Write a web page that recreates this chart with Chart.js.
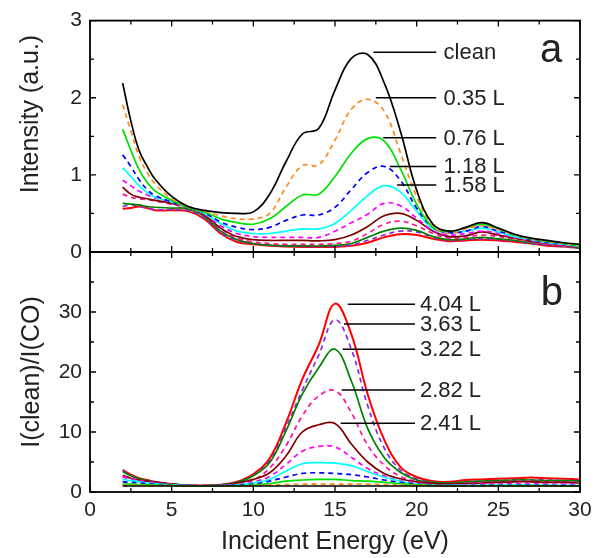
<!DOCTYPE html>
<html>
<head>
<meta charset="utf-8">
<script src="https://cdn.jsdelivr.net/npm/chart.js@4.4.0/dist/chart.umd.min.js"></script>
<style>
body { margin: 0; background: #fff; }
#wrap { position: relative; width: 604px; height: 558px; }
#wrap canvas { position: absolute; left: 0; top: 0; }
</style>
</head>
<body>
<div id="wrap">
  <canvas id="chartA" width="604" height="558"></canvas>
  <canvas id="chartB" width="604" height="558"></canvas>
</div>
<script>
// energy grid (eV)
var energy = [2,2.5,3,3.5,4,5,6,7,8,9,10,11,12,13,14,15,16,17,18,19,20,21,22,23,24,25,26,27,28,29,30];

// exposures
var exposures = ['clean','0.35 L','0.76 L','1.18 L','1.58 L','1.99 L','2.41 L','2.82 L','3.22 L','3.63 L','4.04 L'];

// panel a - intensity (a.u.)
var aClean = [2.19,1.70,1.32,1.11,0.94,0.72,0.59,0.54,0.51,0.50,0.52,0.75,1.17,1.53,1.60,2.10,2.51,2.56,2.20,1.57,0.80,0.36,0.27,0.32,0.38,0.31,0.23,0.18,0.15,0.12,0.10];
var a035 = [1.91,1.57,1.24,1.03,0.88,0.69,0.59,0.53,0.47,0.43,0.43,0.50,0.84,1.12,1.13,1.45,1.85,1.98,1.83,1.29,0.72,0.34,0.24,0.30,0.34,0.29,0.22,0.17,0.14,0.11,0.09];
var a076 = [1.59,1.32,1.07,0.90,0.79,0.67,0.58,0.52,0.43,0.38,0.36,0.43,0.59,0.74,0.75,0.98,1.28,1.47,1.44,1.08,0.62,0.32,0.27,0.31,0.36,0.30,0.22,0.17,0.14,0.11,0.08];
var a118 = [1.26,1.11,0.94,0.81,0.73,0.65,0.59,0.51,0.39,0.32,0.29,0.32,0.41,0.48,0.48,0.58,0.81,1.03,1.11,0.93,0.57,0.32,0.25,0.27,0.33,0.27,0.22,0.16,0.13,0.11,0.08];
var a158 = [1.09,0.98,0.86,0.77,0.71,0.65,0.58,0.50,0.37,0.27,0.24,0.24,0.27,0.30,0.30,0.37,0.54,0.73,0.86,0.78,0.53,0.30,0.25,0.27,0.31,0.26,0.20,0.16,0.12,0.10,0.07];
var a199 = [0.93,0.86,0.79,0.74,0.70,0.65,0.59,0.49,0.34,0.24,0.20,0.19,0.19,0.19,0.19,0.27,0.38,0.49,0.63,0.60,0.44,0.28,0.22,0.24,0.27,0.24,0.19,0.15,0.11,0.09,0.07];
var a241 = [0.84,0.75,0.71,0.69,0.67,0.63,0.58,0.48,0.31,0.20,0.16,0.15,0.15,0.15,0.145,0.16,0.22,0.33,0.47,0.50,0.41,0.27,0.20,0.21,0.26,0.22,0.18,0.14,0.11,0.09,0.06];
var a282 = [0.75,0.71,0.69,0.68,0.66,0.62,0.57,0.47,0.30,0.18,0.13,0.11,0.10,0.10,0.10,0.11,0.14,0.24,0.36,0.40,0.34,0.24,0.18,0.19,0.22,0.20,0.17,0.13,0.10,0.08,0.06];
var a322 = [0.63,0.62,0.61,0.59,0.58,0.57,0.56,0.46,0.27,0.16,0.11,0.09,0.08,0.08,0.078,0.085,0.11,0.19,0.27,0.31,0.28,0.20,0.16,0.17,0.19,0.17,0.15,0.12,0.10,0.08,0.05];
var a363 = [0.59,0.61,0.59,0.57,0.55,0.55,0.54,0.44,0.25,0.15,0.11,0.085,0.075,0.07,0.07,0.072,0.09,0.15,0.22,0.27,0.26,0.19,0.15,0.16,0.17,0.16,0.14,0.11,0.09,0.07,0.05];
var a404 = [0.56,0.57,0.59,0.57,0.54,0.54,0.53,0.43,0.24,0.13,0.10,0.08,0.07,0.065,0.065,0.066,0.08,0.12,0.19,0.23,0.22,0.17,0.14,0.15,0.16,0.15,0.13,0.11,0.08,0.07,0.05];

// panel b - I(clean)/I(CO)
var bClean = [1,1,1,1,1,1,1,1,1,1,1,1,1,1,1,1,1,1,1,1,1,1,1,1,1,1,1,1,1,1,1];
var b035 = [1.1,1.1,1.1,1.1,1.05,1.05,1.0,1.0,1.0,1.0,1.05,1.15,1.25,1.3,1.3,1.3,1.3,1.3,1.25,1.15,1.1,1.0,1.0,1.0,1.0,1.0,1.0,1.0,1.0,1.0,1.0];
var b076 = [1.3,1.3,1.25,1.2,1.15,1.1,1.0,1.0,1.0,1.05,1.15,1.4,1.8,2.0,2.1,2.1,1.9,1.8,1.6,1.4,1.2,1.05,1.0,1.0,1.05,1.05,1.05,1.05,1.05,1.0,1.0];
var b118 = [1.7,1.6,1.5,1.4,1.3,1.15,1.05,1.0,1.05,1.15,1.3,1.8,2.5,3.1,3.2,3.1,2.9,2.5,2.0,1.6,1.3,1.1,1.05,1.05,1.1,1.1,1.1,1.1,1.1,1.05,1.05];
var b158 = [2.1,1.9,1.7,1.5,1.4,1.2,1.05,1.0,1.05,1.2,1.5,2.1,3.5,4.7,4.9,4.8,4.4,3.4,2.5,1.8,1.3,1.1,1.1,1.1,1.1,1.15,1.15,1.15,1.1,1.1,1.1];
var b199 = [2.6,2.2,1.9,1.7,1.5,1.25,1.1,1.05,1.1,1.3,1.7,2.6,4.6,6.8,7.6,7.5,5.8,3.9,2.7,1.9,1.5,1.2,1.1,1.2,1.3,1.3,1.4,1.4,1.3,1.3,1.3];
var b241 = [2.8,2.3,2.0,1.8,1.6,1.3,1.1,1.05,1.15,1.5,2.1,3.2,6.0,10.0,11.2,11.4,8.0,5.0,3.1,2.2,1.7,1.4,1.3,1.4,1.5,1.6,1.7,1.7,1.6,1.6,1.5];
var b282 = [2.5,2.1,1.9,1.7,1.5,1.25,1.1,1.05,1.15,1.4,2.0,4.0,7.7,12.7,16.0,16.9,13.2,7.8,4.5,2.6,1.8,1.4,1.3,1.5,1.6,1.7,1.8,1.8,1.7,1.7,1.6];
var b322 = [3.4,2.7,2.2,1.9,1.6,1.3,1.1,1.05,1.2,1.6,2.7,4.9,10.2,16.3,20.7,23.8,18.5,10.6,5.8,3.3,2.0,1.6,1.5,1.7,1.8,1.9,2.0,2.0,1.9,1.9,1.8];
var b363 = [3.6,2.8,2.2,1.9,1.7,1.3,1.1,1.05,1.2,1.6,2.8,5.2,10.8,17.0,22.8,28.7,23.8,14.4,7.4,3.7,2.2,1.6,1.5,1.7,1.8,1.9,2.0,2.0,2.0,1.9,1.9];
var b404 = [3.7,2.9,2.3,2.0,1.7,1.3,1.1,1.05,1.2,1.7,3.0,5.6,11.5,18.8,24.5,31.4,26.3,16.3,8.8,4.2,2.5,1.8,1.7,2.0,2.1,2.2,2.3,2.4,2.3,2.2,2.1];

// line styles per exposure
var colors = ['#000000','#ff8a1c','#00e000','#0000ff','#00ffff','#ff00ff','#800000','#ff1493','#008000','#8a2be2','#ff0000'];
var dashed = [false,true,false,true,false,true,false,true,false,true,false];

// label lines: panel a
var aLabels = ['clean','0.35 L','0.76 L','1.18 L','1.58 L'];
var aLabelY = [2.59,2.0,1.48,1.11,0.87];
var aLabelX0 = [17.35,17.5,17.95,18.35,18.8];
// label lines: panel b
var bLabels = ['4.04 L','3.63 L','3.22 L','2.82 L','2.41 L'];
var bLabelY = [31.3,28.0,23.8,17.0,11.45];
var bLabelX0 = [15.78,15.55,15.47,15.41,15.35];

Chart.defaults.font.family = '"Liberation Sans", Arial, sans-serif';
Chart.defaults.color = '#222';

function makeSets(list) {
    var sets = [];
    for (var i = 0; i < list.length; i++) {
        var pts = [];
        for (var k = 0; k < energy.length; k++) {
            pts.push({x: energy[k], y: list[i][k]});
        }
        sets.push({
            label: exposures[i],
            data: pts,
            borderColor: colors[i],
            borderWidth: i == 10 ? 2 : 1.7,
            borderDash: dashed[i] ? [5, 4] : [],
            pointRadius: 0,
            fill: false,
            tension: 0.4
        });
    }
    return sets;
}

// frame + inward ticks on all four sides
var frameTicks = {
    id: 'frameTicks',
    afterDraw: function(chart, args, o) {
        var ctx = chart.ctx, ca = chart.chartArea;
        var x = chart.scales.x, y = chart.scales.y;
        ctx.save();
        ctx.strokeStyle = '#000';
        ctx.lineWidth = 1.3;
        ctx.beginPath();
        for (var v = x.min; v <= x.max + 1e-9; v += o.xStep / 2) {
            var px = x.getPixelForValue(v);
            var len = Math.abs(v / o.xStep - Math.round(v / o.xStep)) < 1e-6 ? 6 : 4;
            ctx.moveTo(px, ca.bottom); ctx.lineTo(px, ca.bottom - len);
            ctx.moveTo(px, ca.top); ctx.lineTo(px, ca.top + len);
        }
        for (var w = y.min; w <= y.max + 1e-9; w += o.yStep / 2) {
            var py = y.getPixelForValue(w);
            var l2 = Math.abs(w / o.yStep - Math.round(w / o.yStep)) < 1e-6 ? 6 : 4;
            ctx.moveTo(ca.left, py); ctx.lineTo(ca.left + l2, py);
            ctx.moveTo(ca.right, py); ctx.lineTo(ca.right - l2, py);
        }
        ctx.stroke();
        ctx.lineWidth = 1.8;
        ctx.strokeRect(ca.left, ca.top, ca.right - ca.left, ca.bottom - ca.top);
        ctx.restore();
    }
};

// label lines, panel letter, side title
var labelLines = {
    id: 'labelLines',
    afterDatasetsDraw: function(chart, args, o) {
        var ctx = chart.ctx;
        var x = chart.scales.x, y = chart.scales.y;
        ctx.save();
        ctx.strokeStyle = '#000';
        ctx.lineWidth = 1.5;
        ctx.fillStyle = '#222';
        ctx.font = '22px "Liberation Sans", Arial, sans-serif';
        ctx.textBaseline = 'middle';
        ctx.textAlign = 'left';
        for (var i = 0; i < o.texts.length; i++) {
            var py = y.getPixelForValue(o.ys[i]);
            ctx.beginPath();
            ctx.moveTo(x.getPixelForValue(o.x0s[i]), py);
            ctx.lineTo(x.getPixelForValue(o.x1), py);
            ctx.stroke();
            ctx.fillText(o.texts[i], x.getPixelForValue(o.tx), py + 1);
        }
        ctx.font = '40px "Liberation Sans", Arial, sans-serif';
        ctx.textBaseline = 'alphabetic';
        ctx.fillText(o.letter, x.getPixelForValue(o.letterX), y.getPixelForValue(o.letterY));
        if (o.sideTitle) {
            ctx.font = '25px "Liberation Sans", Arial, sans-serif';
            ctx.textAlign = 'center';
            ctx.textBaseline = 'middle';
            ctx.translate(o.sideTitle.cx, o.sideTitle.cy);
            ctx.rotate(-Math.PI / 2);
            ctx.fillText(o.sideTitle.text, 0, 0);
        }
        ctx.restore();
    }
};

function fixWidth(w) { return function(s) { s.width = w; }; }
function fixHeight(h) { return function(s) { s.height = h; }; }

var chartA = new Chart(document.getElementById('chartA'), {
    type: 'line',
    data: { datasets: makeSets([aClean,a035,a076,a118,a158,a199,a241,a282,a322,a363,a404]) },
    options: {
        responsive: false,
        animation: false,
        layout: { padding: { top: 13, right: 24, bottom: 306, left: 0 } },
        plugins: {
            legend: { display: false },
            tooltip: { enabled: false },
            frameTicks: { xStep: 5, yStep: 1 },
            labelLines: {
                texts: aLabels, ys: aLabelY, x0s: aLabelX0, x1: 21.2, tx: 21.65,
                letter: 'a', letterX: 27.55, letterY: 2.46,
                sideTitle: { text: 'Intensity (a.u.)', cx: 31, cy: 114 }
            }
        },
        scales: {
            x: { type: 'linear', min: 0, max: 30, display: false },
            y: {
                min: 0, max: 3,
                afterFit: fixWidth(90),
                grid: { display: false, drawTicks: false },
                border: { display: false },
                ticks: { stepSize: 1, padding: 8, font: { size: 21 } }
            }
        }
    },
    plugins: [frameTicks, labelLines]
});

var chartB = new Chart(document.getElementById('chartB'), {
    type: 'line',
    data: { datasets: makeSets([bClean,b035,b076,b118,b158,b199,b241,b282,b322,b363,b404]) },
    options: {
        responsive: false,
        animation: false,
        layout: { padding: { top: 252, right: 24, bottom: 0, left: 0 } },
        plugins: {
            legend: { display: false },
            tooltip: { enabled: false },
            frameTicks: { xStep: 5, yStep: 10 },
            labelLines: {
                texts: bLabels, ys: bLabelY, x0s: bLabelX0, x1: 19.9, tx: 20.2,
                letter: 'b', letterX: 27.6, letterY: 31.2
            }
        },
        scales: {
            x: {
                type: 'linear', min: 0, max: 30,
                afterFit: fixHeight(66),
                grid: { display: false, drawTicks: false },
                border: { display: false },
                ticks: { stepSize: 5, padding: 6, font: { size: 21 }, maxRotation: 0 },
                title: { display: true, text: 'Incident Energy (eV)', font: { size: 25 }, padding: { top: 0, bottom: 1 } }
            },
            y: {
                min: 0, max: 40,
                afterFit: fixWidth(90),
                grid: { display: false, drawTicks: false },
                border: { display: false },
                ticks: {
                    stepSize: 10, padding: 8, font: { size: 21 },
                    callback: function(v) { return v == 40 ? '' : v; }
                },
                title: { display: true, text: 'I(clean)/I(CO)', font: { size: 25 }, padding: { top: 17, bottom: 0 } }
            }
        }
    },
    plugins: [frameTicks, labelLines]
});
</script>
</body>
</html>
